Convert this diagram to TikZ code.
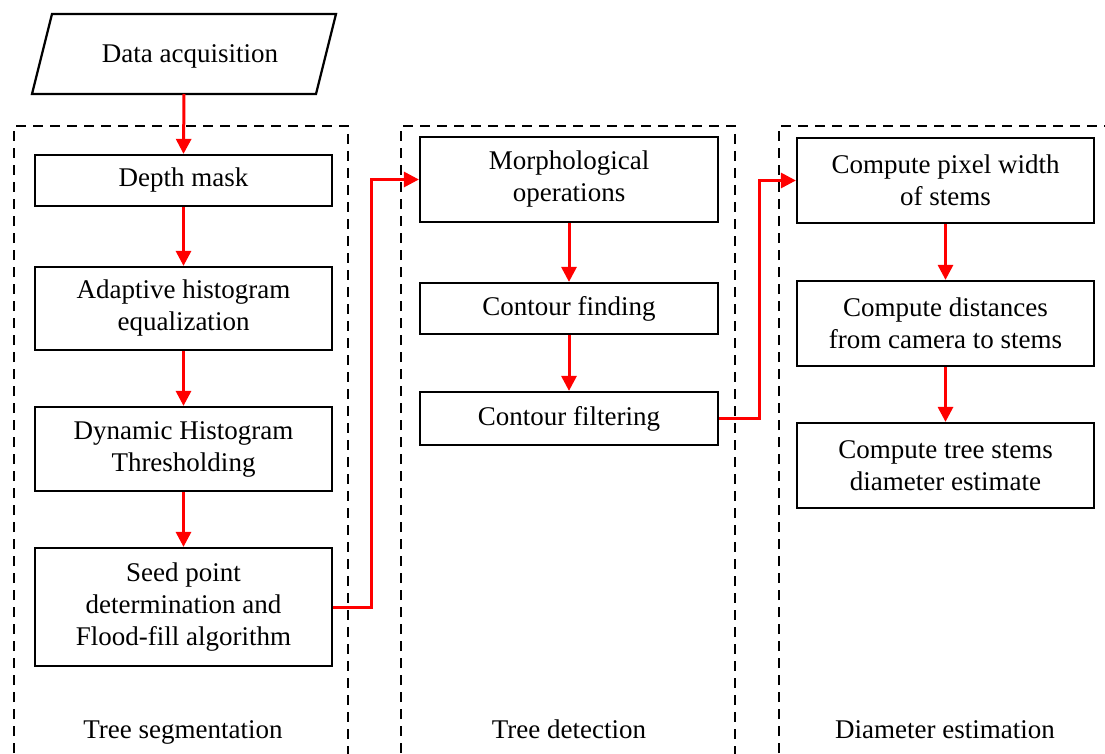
\documentclass[tikz,border=0pt]{standalone}
\usepackage{fontspec}
\setmainfont{Liberation Serif}
\usetikzlibrary{arrows.meta}
\definecolor{flowred}{RGB}{255,0,0}
\tikzset{
  x=1pt, y=-1pt,
  procbox/.style={draw=black, line width=2.2pt, rectangle, align=center, inner sep=2pt,
    font=\fontsize{27}{32}\selectfont},
  grouplbl/.style={font=\fontsize{27}{32}\selectfont, inner sep=0pt, anchor=base},
  groupbox/.style={draw=black, line width=2pt, dash pattern=on 10pt off 7pt},
  arr/.style={draw=flowred, line width=3pt, -{Triangle[length=15pt,width=15pt]}}
}
\begin{document}
\begin{tikzpicture}
\useasboundingbox (0,0) rectangle (1105,754);
\clip (0,0) rectangle (1105,754);
% group frames
\draw[groupbox] (14,770) -- (14,126) -- (348,126) -- (348,770);
\draw[groupbox] (401,770) -- (401,126) -- (735,126) -- (735,770);
\draw[groupbox] (779,770) -- (779,126) -- (1120,126) -- (1120,770);
% data acquisition
\draw[line width=2.2pt, line join=miter] (52,14) -- (336,14) -- (316,94) -- (32,94) -- cycle;
\node[font=\fontsize{27}{32}\selectfont, minimum height=80pt, inner sep=0pt] (acq) at (190,56) {Data acquisition};
\coordinate (acqout) at (184,94);
% column 1
\node[procbox, minimum width=297pt, minimum height=51pt] (depth) at (183.5,180.5) {Depth mask};
\node[procbox, minimum width=297pt, minimum height=83pt] (adapt) at (183.5,308.5) {Adaptive histogram\\equalization};
\node[procbox, minimum width=297pt, minimum height=84pt] (dyn) at (183.5,449) {Dynamic Histogram\\Thresholding};
\node[procbox, minimum width=297pt, minimum height=118pt] (seed) at (183.5,607) {Seed point\\determination and\\Flood-fill algorithm};
% column 2
\node[procbox, minimum width=298pt, minimum height=85pt] (morph) at (569,179.5) {Morphological\\operations};
\node[procbox, minimum width=298pt, minimum height=51pt] (cfind) at (569,308.5) {Contour finding};
\node[procbox, minimum width=298pt, minimum height=53pt] (cfilt) at (569,418.5) {Contour filtering};
% column 3
\node[procbox, minimum width=297pt, minimum height=85pt] (pix) at (945.5,180.5) {Compute pixel width\\of stems};
\node[procbox, minimum width=297pt, minimum height=85pt] (dist) at (945.5,323.5) {Compute distances\\from camera to stems};
\node[procbox, minimum width=297pt, minimum height=85pt] (diam) at (945.5,465.5) {Compute tree stems\\diameter estimate};
% group labels
\node[grouplbl] (lbl1) at (183,738) {Tree segmentation};
\node[grouplbl] (lbl2) at (569,738) {Tree detection};
\node[grouplbl] (lbl3) at (945,738) {Diameter estimation};
% connectors
\draw[arr] (acqout) -- (depth.north);
\draw[arr] (depth.south) -- (adapt.north);
\draw[arr] (adapt.south) -- (dyn.north);
\draw[arr] (dyn.south) -- (seed.north);
\draw[arr] (seed.east) -- ++(38,0) |- (morph.west);
\draw[arr] (morph.south) -- (cfind.north);
\draw[arr] (cfind.south) -- (cfilt.north);
\draw[arr] (cfilt.east) -- ++(40,0) |- (pix.west);
\draw[arr] (pix.south) -- (dist.north);
\draw[arr] (dist.south) -- (diam.north);
\end{tikzpicture}
\end{document}
